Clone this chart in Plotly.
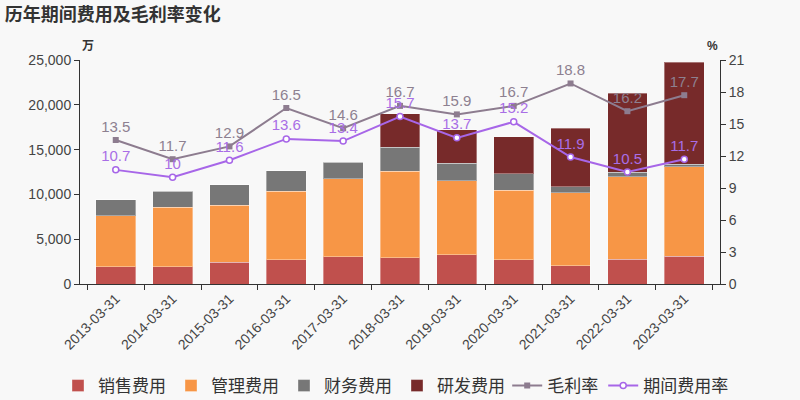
import plotly.graph_objects as go

categories = ["2013-03-31", "2014-03-31", "2015-03-31", "2016-03-31", "2017-03-31",
              "2018-03-31", "2019-03-31", "2020-03-31", "2021-03-31", "2022-03-31", "2023-03-31"]
sales_exp = [1930, 1930, 2455, 2680, 3050, 2940, 3270, 2680, 2050, 2790, 3125]
admin_exp = [5660, 6630, 6325, 7700, 8670, 9670, 8260, 7770, 8140, 9190, 9935]
fin_exp = [1790, 1820, 2270, 2270, 1860, 2680, 1970, 1830, 670, 520, 330]
rd_exp = [0, 0, 0, 0, 0, 3720, 3690, 4130, 6550, 8780, 11350]
gross_margin = [13.5, 11.7, 12.9, 16.5, 14.6, 16.7, 15.9, 16.7, 18.8, 16.2, 17.7]
period_rate = [10.7, 10, 11.6, 13.6, 13.4, 15.7, 13.7, 15.2, 11.9, 10.5, 11.7]

font_family = "Liberation Sans, Arial, Noto Sans CJK SC, sans-serif"
bar_line = dict(width=1, color="rgba(255,255,255,0.35)")

fig = go.Figure()
for name, vals, col in [("销售费用", sales_exp, "#c0504d"),
                        ("管理费用", admin_exp, "#f79646"),
                        ("财务费用", fin_exp, "#777777"),
                        ("研发费用", rd_exp, "#772a2a")]:
    fig.add_trace(go.Bar(x=categories, y=vals, name=name, marker=dict(color=col, line=bar_line),
                         yaxis="y", legend="legend"))

fig.add_trace(go.Scatter(x=categories, y=gross_margin, name="毛利率", yaxis="y2", legend="legend2",
                         mode="lines+markers+text", text=[str(v) for v in gross_margin],
                         textposition="top center",
                         textfont=dict(size=15, color="#8d8090"),
                         line=dict(color="#8d7c8f", width=2),
                         marker=dict(symbol="square", size=6, color="#8d7c8f")))
fig.add_trace(go.Scatter(x=categories, y=period_rate, name="期间费用率", yaxis="y2", legend="legend2",
                         mode="lines+markers+text", text=[str(v) for v in period_rate],
                         textposition="top center",
                         textfont=dict(size=15, color="#a96ee6"),
                         line=dict(color="#a766e8", width=2),
                         marker=dict(symbol="circle", size=6, color="white",
                                     line=dict(color="#a766e8", width=1.5))))

legend_common = dict(orientation="h", xanchor="left", xref="container",
                     y=0.035, yanchor="middle", yref="container",
                     font=dict(size=17, color="#333333"), bgcolor="rgba(0,0,0,0)",
                     itemwidth=30, traceorder="normal")

fig.update_layout(
    width=800, height=400,
    barmode="stack", bargap=0.3,
    paper_bgcolor="#f8f8f8", plot_bgcolor="#f8f8f8",
    margin=dict(l=80, r=80, t=60, b=116, autoexpand=False),
    font=dict(family=font_family, size=13, color="#333333"),
    title=dict(text="<b>历年期间费用及毛利率变化</b>", x=0.006, xanchor="left", y=0.9625, yanchor="middle",
               font=dict(size=18, color="#333333")),
    xaxis=dict(type="category", tickangle=-45, showline=True, linecolor="#333333", linewidth=1,
               ticks="outside", tickson="boundaries", ticklen=5, tickcolor="#333333",
               showgrid=False, tickfont=dict(size=14, color="#444444")),
    yaxis=dict(range=[0, 25000], dtick=5000, tickformat=",", showline=True, linecolor="#333333",
               ticks="outside", ticklen=5, tickcolor="#333333", showgrid=False, zeroline=False,
               tickfont=dict(size=14, color="#444444")),
    yaxis2=dict(range=[0, 21], dtick=3, overlaying="y", side="right", showline=True,
                linecolor="#333333", ticks="outside", ticklen=5, tickcolor="#333333",
                showgrid=False, zeroline=False, tickfont=dict(size=14, color="#444444")),
    legend=dict(legend_common, x=0.0725),
    legend2=dict(legend_common, x=0.634),
    annotations=[
        dict(text="<b>万</b>", xref="paper", yref="paper", x=0.0, y=1.0, yshift=23,
             showarrow=False, font=dict(size=12, color="#333333")),
        dict(text="<b>%</b>", xref="paper", yref="paper", x=1.0, y=1.0, yshift=23,
             showarrow=False, font=dict(size=12, color="#333333")),
    ],
)

fig.write_html("out.html", config={"displayModeBar": False},
               post_script="document.body.style.margin='0';document.body.style.background='#f8f8f8';")
